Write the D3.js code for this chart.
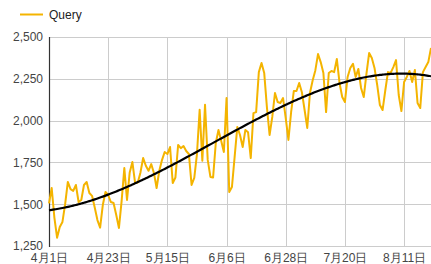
<!DOCTYPE html>
<html><head><meta charset="utf-8">
<script src="https://cdn.jsdelivr.net/npm/d3@7"></script>
<style>
html,body{margin:0;padding:0;background:#fff;}
svg{display:block;font-family:Arial,"Liberation Sans","Noto Sans CJK SC",sans-serif;}
</style></head><body>
<svg id="c" width="431" height="264"></svg>
<script>
const seriesName = "Query";
const queryValues = [
1505,1597,1420,1300,1364,1394,1500,1633,1590,1580,
1615,1513,1525,1615,1633,1567,1550,1480,1405,1360,
1495,1573,1555,1513,1507,1435,1358,1520,1716,1525,
1690,1752,1627,1630,1690,1776,1730,1700,1740,1687,
1597,1700,1764,1812,1800,1842,1627,1660,1854,1835,
1848,1818,1800,1615,1657,1800,2065,1760,2095,1765,
1663,1660,1866,1944,1880,1812,2135,1573,1603,1782,
1962,1914,1842,1944,1930,1776,2045,2051,2290,2345,
2285,2081,1914,2022,2165,2111,2105,2135,2015,1884,
2050,2177,2177,2225,2170,2065,1956,2165,2240,2300,
2398,2350,2285,2051,2285,2297,2290,2368,2225,2141,
2111,2261,2315,2340,2261,2309,2195,2141,2280,2404,
2374,2315,2213,2093,2063,2180,2290,2285,2320,2362,
2153,2057,2231,2261,2297,2231,2303,2105,2075,2290,
2320,2350,2434
];
// trendline values (day index, value)
const trendDays   = [0,    21.6, 28.3, 33.8, 37.2, 55.4, 63.6, 82.2, 89.6, 110,  130.5, 142];
const trendValues = [1465, 1543, 1603, 1645, 1670, 1817, 1883, 2047, 2107, 2233, 2283,  2263];
const xTickDays = [0,22,44,66,88,110,132];
const xTickLabels = ["4月1日","4月23日","5月15日","6月6日","6月28日","7月20日","8月11日"];
const yTicks = [1250,1500,1750,2000,2250,2500];

const svg = d3.select("#c");
const L = 49, R = 431, T = 37, B = 246;
const x = d3.scaleLinear().domain([0, queryValues.length - 1]).range([L, R]);
const y = d3.scaleLinear().domain([1250, 2500]).range([B, T]);

// gridlines
svg.append("g").selectAll("line").data(yTicks).join("line")
  .attr("x1", L).attr("x2", R).attr("y1", d => Math.round(y(d)) + 0.5).attr("y2", d => Math.round(y(d)) + 0.5)
  .attr("stroke", "#cccccc").attr("stroke-width", 1);
svg.append("g").selectAll("line").data(xTickDays.slice(1)).join("line")
  .attr("x1", d => Math.round(x(d)) + 0.5).attr("x2", d => Math.round(x(d)) + 0.5).attr("y1", T).attr("y2", B)
  .attr("stroke", "#cccccc").attr("stroke-width", 1);

// y axis labels
const yAxis = d3.axisLeft(y).tickValues(yTicks).tickSize(0).tickPadding(6).tickFormat(d3.format(","));
const gy = svg.append("g").attr("transform", `translate(${L},0)`).call(yAxis);
gy.select(".domain").remove();
gy.selectAll("text").attr("font-size", 12).attr("fill", "#444").attr("font-family", "Arial,'Liberation Sans',sans-serif");

// x axis labels
const xAxis = d3.axisBottom(x).tickValues(xTickDays).tickSize(0).tickPadding(7).tickFormat((d, i) => xTickLabels[i]);
const gx = svg.append("g").attr("transform", `translate(0,${B})`).call(xAxis);
gx.select(".domain").remove();
gx.selectAll("text").attr("font-size", 12).attr("fill", "#444");

// left baseline
svg.append("line").attr("x1", L + 0.5).attr("x2", L + 0.5).attr("y1", T).attr("y2", B + 1)
  .attr("stroke", "#333").attr("stroke-width", 1.2);

// data line
const line = d3.line().x((d, i) => x(i)).y(d => y(d));
svg.append("path").datum(queryValues).attr("d", line)
  .attr("fill", "none").attr("stroke", "#F4B400").attr("stroke-width", 2).attr("stroke-linejoin", "round");

// smooth cubic trendline through the read-off trend points (least squares)
function polyfit(xs, ys, deg) {
  const n = deg + 1;
  const A = Array.from({length: n}, () => new Array(n + 1).fill(0));
  xs.forEach((xv, k) => {
    for (let i = 0; i < n; i++) {
      for (let j = 0; j < n; j++) A[i][j] += Math.pow(xv, i + j);
      A[i][n] += ys[k] * Math.pow(xv, i);
    }
  });
  for (let i = 0; i < n; i++) {
    let p = i;
    for (let r = i + 1; r < n; r++) if (Math.abs(A[r][i]) > Math.abs(A[p][i])) p = r;
    [A[i], A[p]] = [A[p], A[i]];
    for (let r = 0; r < n; r++) {
      if (r === i) continue;
      const f = A[r][i] / A[i][i];
      for (let c = i; c <= n; c++) A[r][c] -= f * A[i][c];
    }
  }
  return A.map((row, i) => row[n] / row[i]);
}
const N = queryValues.length - 1;
const coef = polyfit(trendDays.map(d => d / N), trendValues, 3);
const trend = d3.range(0, N + 0.001, 0.5).map(t => {
  const u = t / N;
  return [t, coef.reduce((s, c, k) => s + c * Math.pow(u, k), 0)];
});
svg.append("path").datum(trend)
  .attr("d", d3.line().x(d => x(d[0])).y(d => y(d[1])))
  .attr("fill", "none").attr("stroke", "#000").attr("stroke-width", 2.2);

// legend
const lg = svg.append("g");
lg.append("line").attr("x1", 20).attr("x2", 43).attr("y1", 14.5).attr("y2", 14.5)
  .attr("stroke", "#F4B400").attr("stroke-width", 2);
lg.append("text").attr("x", 49).attr("y", 19).attr("font-size", 12).attr("fill", "#222")
  .attr("font-family", "Arial,'Liberation Sans',sans-serif").text(seriesName);
</script>
</body></html>
